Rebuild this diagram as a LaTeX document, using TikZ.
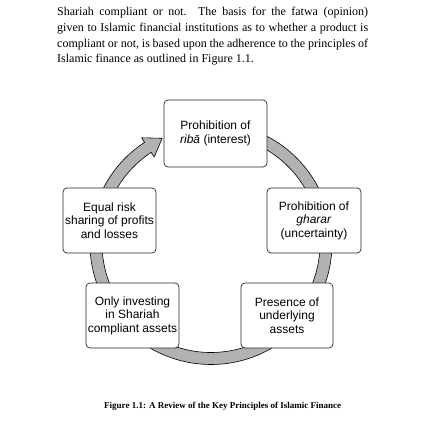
\documentclass[tikz,border=0pt]{standalone}
\usepackage{fontspec}
\setmainfont{Liberation Serif}
\setsansfont{Liberation Sans}
\begin{document}
\begin{tikzpicture}[x=1pt,y=1pt,
  box/.style={draw=black!85, line width=0.7pt, fill=white, rounded corners=4pt,
    align=center, inner sep=0pt, font=\sffamily\fontsize{12}{13.5}\selectfont},
  ring/.style={draw=black, line width=0.6pt, fill=black!30, line join=round},
  bodyline/.style={anchor=base west, inner sep=0pt, font=\rmfamily\fontsize{12}{15.7}\selectfont},
  captext/.style={anchor=base west, inner sep=0pt, font=\rmfamily\bfseries\fontsize{9}{11}\selectfont}]
\useasboundingbox[fill=white] (0,0) rectangle (430,-430);
% body text
\node[bodyline] (p1) at (57,-15.3) {\makebox[311pt][s]{Shariah compliant or not. The basis for the fatwa (opinion)}};
\node[bodyline] (p2) at (57,-31.2) {\makebox[311pt][s]{given to Islamic financial institutions as to whether a product is}};
\node[bodyline] (p3) at (57,-47.1) {\makebox[311pt][s]{compliant or not, is based upon the adherence to the principles of}};
\node[bodyline] (p4) at (57,-63.0) {Islamic finance as outlined in Figure 1.1.};
% ring with arrow
\coordinate (C) at (211,-243.5);
\begin{scope}[shift={(C)}]
\draw[ring] (123.3:109pt) -- (123.3:103.5pt) -- (114.9:116pt) -- (123.3:126.5pt) -- (123.3:121pt)
  arc[start angle=123.3, end angle=460, radius=121pt] -- (460:109pt)
  arc[start angle=460, end angle=123.3, radius=109pt] -- cycle;
\end{scope}
% boxes
\node[box, minimum width=103pt, minimum height=67pt] (top) at (215.5,-133.5) {Prohibition of\\\textit{ribā} (interest)};
\node[box, minimum width=93pt, minimum height=65pt] (left) at (109.5,-220.5) {Equal risk\\sharing of profits\\and losses};
\node[box, minimum width=94pt, minimum height=65pt] (right) at (314,-220.5) {Prohibition of\\\textit{gharar}\\(uncertainty)};
\node[box, minimum width=93pt, minimum height=65pt] (bl) at (132.5,-315.5) {Only investing\\in Shariah\\compliant assets};
\node[box, minimum width=92pt, minimum height=65pt] (br) at (287,-315.5) {Presence of\\underlying\\assets};
% caption
\node[captext] (cap) at (104,-408) {Figure 1.1: A Review of the Key Principles of Islamic Finance};
\end{tikzpicture}
\end{document}
